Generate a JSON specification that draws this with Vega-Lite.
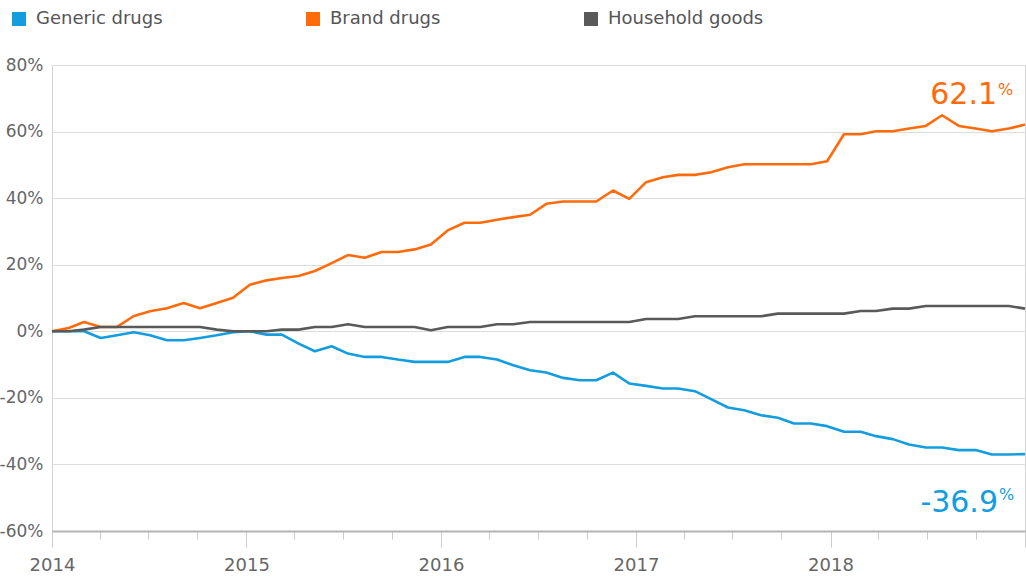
{
  "$schema": "https://vega.github.io/schema/vega-lite/v6.json",
  "width": 973,
  "height": 466,
  "autosize": {"type": "none"},
  "padding": {"left": 52, "top": 65, "right": 1, "bottom": 45},
  "background": "white",
  "config": {
    "font": "DejaVu Sans",
    "view": {"stroke": "#d4d4d4", "strokeWidth": 1}
  },
  "datasets": {
    "series": [
      {"date": "2014-01-01", "Generic drugs": 0, "Brand drugs": 0, "Household goods": 0},
      {"date": "2014-02-01", "Generic drugs": 0, "Brand drugs": 1.0, "Household goods": 0},
      {"date": "2014-03-01", "Generic drugs": 0, "Brand drugs": 2.8, "Household goods": 0.5},
      {"date": "2014-04-01", "Generic drugs": -2.0, "Brand drugs": 1.3, "Household goods": 1.3},
      {"date": "2014-05-01", "Generic drugs": -1.2, "Brand drugs": 1.3, "Household goods": 1.3},
      {"date": "2014-06-01", "Generic drugs": -0.3, "Brand drugs": 4.6, "Household goods": 1.3},
      {"date": "2014-07-01", "Generic drugs": -1.2, "Brand drugs": 6.0, "Household goods": 1.3},
      {"date": "2014-08-01", "Generic drugs": -2.7, "Brand drugs": 6.9, "Household goods": 1.3},
      {"date": "2014-09-01", "Generic drugs": -2.7, "Brand drugs": 8.5, "Household goods": 1.3},
      {"date": "2014-10-01", "Generic drugs": -2.0, "Brand drugs": 6.9, "Household goods": 1.3},
      {"date": "2014-11-01", "Generic drugs": -1.2, "Brand drugs": 8.5, "Household goods": 0.5},
      {"date": "2014-12-01", "Generic drugs": -0.3, "Brand drugs": 10.1, "Household goods": 0},
      {"date": "2015-01-01", "Generic drugs": 0, "Brand drugs": 14.0, "Household goods": 0},
      {"date": "2015-02-01", "Generic drugs": -1.0, "Brand drugs": 15.3, "Household goods": 0},
      {"date": "2015-03-01", "Generic drugs": -1.0, "Brand drugs": 16.0, "Household goods": 0.5},
      {"date": "2015-04-01", "Generic drugs": -3.7, "Brand drugs": 16.6, "Household goods": 0.5},
      {"date": "2015-05-01", "Generic drugs": -6.0, "Brand drugs": 18.1, "Household goods": 1.3},
      {"date": "2015-06-01", "Generic drugs": -4.5, "Brand drugs": 20.5, "Household goods": 1.3},
      {"date": "2015-07-01", "Generic drugs": -6.7, "Brand drugs": 22.9, "Household goods": 2.1},
      {"date": "2015-08-01", "Generic drugs": -7.7, "Brand drugs": 22.1, "Household goods": 1.3},
      {"date": "2015-09-01", "Generic drugs": -7.7, "Brand drugs": 23.8, "Household goods": 1.3},
      {"date": "2015-10-01", "Generic drugs": -8.5, "Brand drugs": 23.8, "Household goods": 1.3},
      {"date": "2015-11-01", "Generic drugs": -9.2, "Brand drugs": 24.6, "Household goods": 1.3},
      {"date": "2015-12-01", "Generic drugs": -9.2, "Brand drugs": 26.1, "Household goods": 0.3},
      {"date": "2016-01-01", "Generic drugs": -9.2, "Brand drugs": 30.3, "Household goods": 1.3},
      {"date": "2016-02-01", "Generic drugs": -7.7, "Brand drugs": 32.6, "Household goods": 1.3},
      {"date": "2016-03-01", "Generic drugs": -7.7, "Brand drugs": 32.6, "Household goods": 1.3},
      {"date": "2016-04-01", "Generic drugs": -8.5, "Brand drugs": 33.5, "Household goods": 2.1},
      {"date": "2016-05-01", "Generic drugs": -10.2, "Brand drugs": 34.3, "Household goods": 2.1},
      {"date": "2016-06-01", "Generic drugs": -11.7, "Brand drugs": 35.0, "Household goods": 2.8},
      {"date": "2016-07-01", "Generic drugs": -12.4, "Brand drugs": 38.3, "Household goods": 2.8},
      {"date": "2016-08-01", "Generic drugs": -14.0, "Brand drugs": 39.0, "Household goods": 2.8},
      {"date": "2016-09-01", "Generic drugs": -14.7, "Brand drugs": 39.0, "Household goods": 2.8},
      {"date": "2016-10-01", "Generic drugs": -14.7, "Brand drugs": 39.0, "Household goods": 2.8},
      {"date": "2016-11-01", "Generic drugs": -12.4, "Brand drugs": 42.3, "Household goods": 2.8},
      {"date": "2016-12-01", "Generic drugs": -15.7, "Brand drugs": 39.8, "Household goods": 2.8},
      {"date": "2017-01-01", "Generic drugs": -16.4, "Brand drugs": 44.8, "Household goods": 3.7},
      {"date": "2017-02-01", "Generic drugs": -17.2, "Brand drugs": 46.3, "Household goods": 3.7},
      {"date": "2017-03-01", "Generic drugs": -17.2, "Brand drugs": 47.0, "Household goods": 3.7},
      {"date": "2017-04-01", "Generic drugs": -18.0, "Brand drugs": 47.0, "Household goods": 4.5},
      {"date": "2017-05-01", "Generic drugs": -20.4, "Brand drugs": 47.8, "Household goods": 4.5},
      {"date": "2017-06-01", "Generic drugs": -22.9, "Brand drugs": 49.3, "Household goods": 4.5},
      {"date": "2017-07-01", "Generic drugs": -23.7, "Brand drugs": 50.2, "Household goods": 4.5},
      {"date": "2017-08-01", "Generic drugs": -25.2, "Brand drugs": 50.2, "Household goods": 4.5},
      {"date": "2017-09-01", "Generic drugs": -26.0, "Brand drugs": 50.2, "Household goods": 5.3},
      {"date": "2017-10-01", "Generic drugs": -27.7, "Brand drugs": 50.2, "Household goods": 5.3},
      {"date": "2017-11-01", "Generic drugs": -27.7, "Brand drugs": 50.2, "Household goods": 5.3},
      {"date": "2017-12-01", "Generic drugs": -28.5, "Brand drugs": 51.1, "Household goods": 5.3},
      {"date": "2018-01-01", "Generic drugs": -30.2, "Brand drugs": 59.2, "Household goods": 5.3},
      {"date": "2018-02-01", "Generic drugs": -30.2, "Brand drugs": 59.2, "Household goods": 6.1},
      {"date": "2018-03-01", "Generic drugs": -31.5, "Brand drugs": 60.1, "Household goods": 6.1},
      {"date": "2018-04-01", "Generic drugs": -32.4, "Brand drugs": 60.1, "Household goods": 6.8},
      {"date": "2018-05-01", "Generic drugs": -34.0, "Brand drugs": 60.9, "Household goods": 6.8},
      {"date": "2018-06-01", "Generic drugs": -34.9, "Brand drugs": 61.7, "Household goods": 7.6},
      {"date": "2018-07-01", "Generic drugs": -34.9, "Brand drugs": 64.9, "Household goods": 7.6},
      {"date": "2018-08-01", "Generic drugs": -35.7, "Brand drugs": 61.7, "Household goods": 7.6},
      {"date": "2018-09-01", "Generic drugs": -35.7, "Brand drugs": 60.9, "Household goods": 7.6},
      {"date": "2018-10-01", "Generic drugs": -37.0, "Brand drugs": 60.1, "Household goods": 7.6},
      {"date": "2018-11-01", "Generic drugs": -37.0, "Brand drugs": 60.9, "Household goods": 7.6},
      {"date": "2018-12-01", "Generic drugs": -36.9, "Brand drugs": 62.1, "Household goods": 6.8}
    ],
    "labels": [
      {"date": "2018-12-01", "series": "Brand drugs", "value": 62.1, "num": "62.1", "unit": "%"},
      {"date": "2018-12-01", "series": "Generic drugs", "value": -36.9, "num": "-36.9", "unit": "%"}
    ],
    "axisrange": [
      {"date": "2014-01-01"},
      {"date": "2019-01-01"}
    ]
  },
  "layer": [
    {
      "encoding": {
        "x": {
          "field": "date", "type": "temporal",
          "scale": {"type": "utc", "domain": [{"year": 2014, "month": 1, "date": 1, "utc": true}, {"year": 2018, "month": 12, "date": 1, "utc": true}]},
          "axis": null
        },
        "y": {
          "field": "value", "type": "quantitative",
          "scale": {"domain": [-60, 80], "nice": false, "zero": false},
          "axis": {
            "values": [-60, -40, -20, 0, 20, 40, 60, 80],
            "labelExpr": "datum.value + '%'",
            "title": null,
            "domain": false,
            "ticks": false,
            "grid": true,
            "gridColor": "#dcdcdc",
            "gridWidth": 1,
            "labelFlush": false,
            "labelPadding": 9,
            "labelFontSize": 17,
            "labelColor": "#666666",
            "labelFont": "DejaVu Sans"
          }
        }
      },
      "layer": [
        {
          "data": {"name": "series"},
          "transform": [{"fold": ["Generic drugs", "Brand drugs", "Household goods"], "as": ["series", "value"]}],
          "mark": {"type": "line", "strokeWidth": 2.6, "strokeJoin": "round"},
          "encoding": {
            "color": {
              "field": "series", "type": "nominal",
              "scale": {"domain": ["Generic drugs", "Brand drugs", "Household goods"], "range": ["#139ddf", "#ff6b0a", "#595959"]},
              "legend": {
                "orient": "none",
                "legendX": -42,
                "legendY": -55,
                "direction": "horizontal",
                "title": null,
                "padding": 0,
                "symbolType": "square",
                "symbolSize": 196,
                "symbolStrokeWidth": 0,
                "labelFontSize": 18,
                "labelColor": "#555555",
                "labelFont": "DejaVu Sans",
                "labelOffset": 8,
                "columnPadding": 141,
                "encode": {"symbols": {"update": {"fill": {"scale": "color", "field": "value"}, "fillOpacity": {"value": 1}, "strokeWidth": {"value": 0}}}}
              }
            }
          }
        },
        {
          "data": {"name": "labels"},
          "transform": [{"filter": "datum.series == 'Brand drugs'"}],
          "mark": {"type": "text", "align": "right", "baseline": "alphabetic", "dx": -28, "dy": -21, "fontSize": 30, "color": "#ff6b0a", "font": "DejaVu Sans"},
          "encoding": {"text": {"field": "num"}}
        },
        {
          "data": {"name": "labels"},
          "transform": [{"filter": "datum.series == 'Brand drugs'"}],
          "mark": {"type": "text", "align": "left", "baseline": "alphabetic", "dx": -27, "dy": -30, "fontSize": 16, "color": "#ff6b0a", "font": "DejaVu Sans"},
          "encoding": {"text": {"field": "unit"}}
        },
        {
          "data": {"name": "labels"},
          "transform": [{"filter": "datum.series == 'Generic drugs'"}],
          "mark": {"type": "text", "align": "right", "baseline": "alphabetic", "dx": -27, "dy": 58, "fontSize": 30, "color": "#139ddf", "font": "DejaVu Sans"},
          "encoding": {"text": {"field": "num"}}
        },
        {
          "data": {"name": "labels"},
          "transform": [{"filter": "datum.series == 'Generic drugs'"}],
          "mark": {"type": "text", "align": "left", "baseline": "alphabetic", "dx": -26, "dy": 46, "fontSize": 16, "color": "#139ddf", "font": "DejaVu Sans"},
          "encoding": {"text": {"field": "unit"}}
        }
      ]
    },
    {
      "data": {"name": "axisrange"},
      "mark": {"type": "point", "opacity": 0},
      "encoding": {
        "x": {
          "field": "date", "type": "temporal",
          "scale": {"type": "utc", "domain": [{"year": 2014, "month": 1, "date": 1, "utc": true}, {"year": 2019, "month": 1, "date": 1, "utc": true}]},
          "axis": {
            "orient": "bottom",
            "title": null,
            "tickCount": {"interval": "month", "step": 3},
            "labels": false,
            "domain": false,
            "grid": false,
            "ticks": true,
            "tickSize": 8,
            "tickColor": "#cccccc",
            "tickWidth": 1
          }
        }
      }
    },
    {
      "data": {"name": "axisrange"},
      "mark": {"type": "point", "opacity": 0},
      "encoding": {
        "x": {
          "field": "date", "type": "temporal",
          "scale": {"type": "utc", "domain": [{"year": 2014, "month": 1, "date": 1, "utc": true}, {"year": 2019, "month": 1, "date": 1, "utc": true}]},
          "axis": {
            "orient": "bottom",
            "title": null,
            "tickCount": {"interval": "year", "step": 1},
            "labelExpr": "utcyear(datum.value) >= 2019 ? '' : utcFormat(datum.value, '%Y')",
            "labelFlush": false,
            "labelOverlap": false,
            "labelPadding": 9,
            "labelFontSize": 18,
            "labelColor": "#666666",
            "labelFont": "DejaVu Sans",
            "domain": true,
            "domainColor": "#b3b3b3",
            "domainWidth": 2,
            "grid": false,
            "ticks": true,
            "tickSize": 16,
            "tickColor": "#cccccc",
            "tickWidth": 1
          }
        }
      }
    }
  ],
  "resolve": {"scale": {"x": "independent"}, "axis": {"x": "independent"}}
}
